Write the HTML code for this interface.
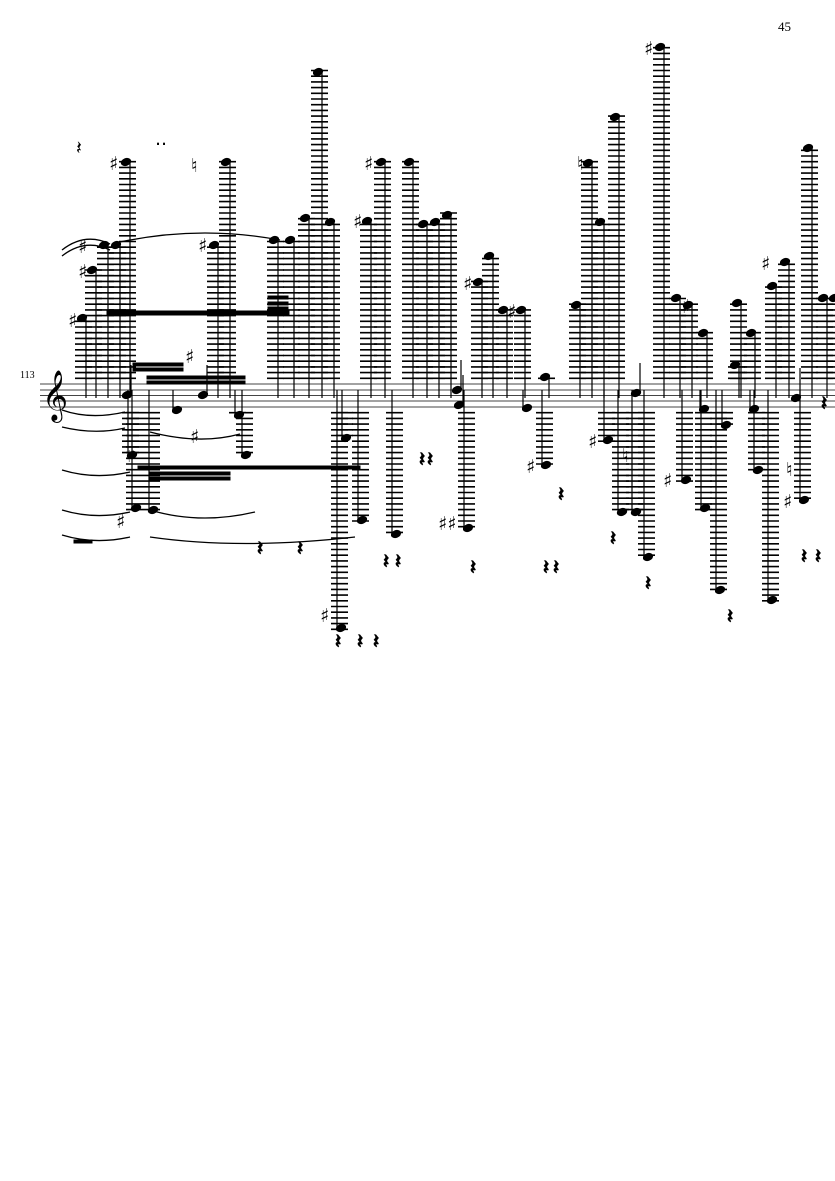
<!DOCTYPE html>
<html><head><meta charset="utf-8"><style>
html,body{margin:0;padding:0;background:#fff;width:835px;height:1181px;overflow:hidden}
svg{display:block}
</style></head><body>
<svg id="s" width="835" height="1181" viewBox="0 0 835 1181" xmlns="http://www.w3.org/2000/svg">
<text x="778" y="31" font-family="Liberation Serif, serif" font-size="13">45</text>
<text x="20" y="378" font-family="Liberation Serif, serif" font-size="10">113</text>
<g stroke="#444" stroke-width="1">
<line x1="40" y1="384" x2="835" y2="384"/><line x1="40" y1="390" x2="835" y2="390"/>
<line x1="40" y1="395.5" x2="835" y2="395.5"/><line x1="40" y1="401" x2="835" y2="401"/>
<line x1="40" y1="407" x2="835" y2="407"/>
</g>
<text x="42" y="410" font-family="DejaVu Serif, serif" font-size="44">𝄞</text>
<g id="g" stroke="#000" fill="#000"></g>
<g fill="none" stroke="#000" stroke-width="1.3">
<path d="M62 250 Q85 232 110 244"/><path d="M62 256 Q85 238 110 250"/>
<path d="M120 242 Q200 225 280 240"/>
<path d="M62 410 Q90 420 125 412"/><path d="M62 427 Q95 435 125 428"/>
<path d="M62 470 Q95 480 130 472"/><path d="M62 510 Q95 520 130 512"/>
<path d="M62 535 Q95 545 130 537"/>
<path d="M150 432 Q200 445 240 434"/><path d="M150 510 Q200 525 255 512"/>
<path d="M150 537 Q240 550 355 537"/>
</g>
<g font-family="DejaVu Sans, sans-serif" font-size="19" fill="#000">
<text x="68" y="327">♯</text><text x="78" y="278">♯</text><text x="78" y="253">♯</text>
<text x="109" y="170">♯</text><text x="198" y="252">♯</text><text x="185" y="363">♯</text>
<text x="190" y="443">♯</text><text x="353" y="228">♯</text><text x="364" y="170">♯</text>
<text x="463" y="290">♯</text><text x="507" y="318">♯</text><text x="526" y="473">♯</text>
<text x="588" y="448">♯</text><text x="663" y="487">♯</text><text x="681" y="313">♯</text>
<text x="761" y="270">♯</text><text x="783" y="508">♯</text><text x="644" y="55">♯</text>
<text x="438" y="530">♯♯</text><text x="116" y="528">♯</text><text x="126" y="462">♯</text>
<text x="320" y="622">♯</text>
<text x="191" y="172">♮</text><text x="577" y="170">♮</text><text x="622" y="462">♮</text><text x="786" y="476">♮</text>
<text x="76" y="154">𝄽</text>
<text x="155" y="145">..</text>
</g>
</svg>
<script>
var g=document.getElementById('g'),NS='http://www.w3.org/2000/svg';
function el(n,a){var e=document.createElementNS(NS,n);for(var k in a)e.setAttribute(k,a[k]);g.appendChild(e);}
function note(x,y){
  el('ellipse',{cx:x-4,cy:y,rx:4.8,ry:3.4,transform:'rotate(-20 '+(x-4)+' '+y+')'});
  if(y<384){el('line',{x1:x,y1:y,x2:x,y2:398,'stroke-width':1.2});
    for(var ly=378.3;ly>=y-2;ly-=5.7)el('line',{x1:x-11,y1:ly,x2:x+6,y2:ly,'stroke-width':1.6});}
  else if(y>407){el('line',{x1:x-8,y1:y,x2:x-8,y2:390,'stroke-width':1.2});
    for(var ly=412.7;ly<=y+2;ly+=5.7)el('line',{x1:x-14,y1:ly,x2:x+3,y2:ly,'stroke-width':1.6});}
  else el('line',{x1:x,y1:y,x2:x,y2:y-30,'stroke-width':1.2});
}
[[86,318],[96,270],[108,245],[120,245],[130,162],[218,245],[230,162],[278,240],[294,240],[309,218],[322,72],[334,222],[371,221],[385,162],[413,162],[427,224],[439,222],[451,215],[482,282],[493,256],[507,310],[525,310],[580,305],[592,163],[604,222],[619,117],[664,47],[680,298],[692,305],[707,333],[741,303],[755,333],[776,286],[789,262],[812,148],[827,298],[838,298]
].forEach(function(p){note(p[0],p[1])});
[[140,508],[157,510],[250,455],[345,628],[366,520],[400,534],[472,528],[550,465],[612,440],[626,512],[640,512],[652,557],[690,480],[709,508],[724,590],[762,470],[776,600],[808,500],[350,438],[136,455]
].forEach(function(p){note(p[0],p[1])});
[[131,395],[181,410],[207,395],[243,415],[463,405],[461,390],[531,408],[549,377],[640,393],[730,425],[739,365],[800,398],[708,409],[758,409]].forEach(function(p){note(p[0],p[1])});
el('rect',{x:107,y:311,width:182,height:4});
el('rect',{x:268,y:296,width:20,height:3});el('rect',{x:268,y:302,width:20,height:3});el('rect',{x:268,y:307,width:20,height:3});
el('rect',{x:133,y:363,width:50,height:3});el('rect',{x:133,y:368,width:50,height:3});
el('rect',{x:147,y:376,width:98,height:3});el('rect',{x:147,y:381,width:98,height:3});
el('rect',{x:138,y:466,width:222,height:3});el('rect',{x:150,y:472,width:80,height:3});el('rect',{x:150,y:477,width:80,height:3});
el('rect',{x:74,y:540,width:18,height:3});
[[262,547],[302,547],[340,640],[362,640],[378,640],[388,560],[400,560],[424,458],[432,458],[475,566],[548,566],[558,566],[563,493],[615,537],[650,582],[732,615],[806,555],[820,555],[826,402]].forEach(function(p){
 var t=document.createElementNS(NS,'text');t.setAttribute('x',p[0]-5);t.setAttribute('y',p[1]+8);t.setAttribute('font-size','20');t.setAttribute('font-family','DejaVu Sans, sans-serif');t.textContent='𝄽';g.appendChild(t);});
</script>
</body></html>
